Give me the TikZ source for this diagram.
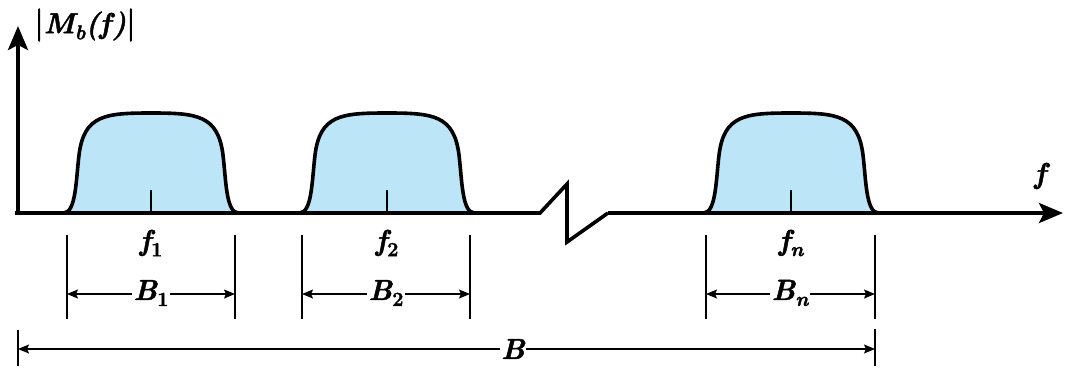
\documentclass[tikz,border=0pt]{standalone}
\usepackage{fontspec}
\newfontfamily\labfont{Latin Modern Roman}[FakeBold=1.6]
\usetikzlibrary{arrows.meta}
\definecolor{pulseblue}{HTML}{BDE5F8}
\newcommand\subsc[1]{\raisebox{-6pt}{\fontsize{20}{20}\selectfont\bfseries\upshape #1}}
\newcommand\subsci[1]{\raisebox{-6pt}{\fontsize{20}{20}\selectfont\bfseries\itshape #1}}
\tikzset{
  axisline/.style={line width=3.6pt, line join=miter},
  axisarrow/.style={-{Stealth[length=24pt,width=20pt,inset=5pt]}},
  pulseline/.style={line width=3.6pt},
  tickline/.style={line width=1.3pt},
  dimline/.style={line width=1.4pt},
  dimarrow/.style={line width=1.4pt,-{Stealth[length=11pt,width=9pt,inset=2pt]}},
  lab/.style={font=\labfont\fontsize{29}{30}\selectfont\bfseries\itshape, inner sep=1pt},
  pulse/.pic={
    \fill[pulseblue] (-87,0) .. controls (-75,-1) and (-75,-33) .. (-72,-58)
      .. controls (-67,-98) and (-46,-100) .. (0,-100)
      .. controls (46,-100) and (67,-98) .. (72,-58)
      .. controls (75,-33) and (75,-1) .. (87,0) -- cycle;
    \draw[pulseline] (-87,0) .. controls (-75,-1) and (-75,-33) .. (-72,-58)
      .. controls (-67,-98) and (-46,-100) .. (0,-100)
      .. controls (46,-100) and (67,-98) .. (72,-58)
      .. controls (75,-33) and (75,-1) .. (87,0);
    \draw[tickline] (0,0) -- (0,-23);
  }
}
\begin{document}
\begin{tikzpicture}[x=1pt,y=-1pt]
\useasboundingbox (0,0) rectangle (1067,367);
% pulses
\pic at (151,213) {pulse};
\pic at (387,213) {pulse};
\pic at (791,213) {pulse};
% axes
\coordinate (O) at (18,213);
\coordinate (ytop) at (18,26);
\coordinate (b1) at (540,213);
\coordinate (b2) at (567,184);
\coordinate (b3) at (567,242);
\coordinate (b4) at (608,213);
\coordinate (xend) at (1063,213);
\draw[axisline,axisarrow] (O) -- (ytop);
\draw[axisline,miter limit=20] (15,213) -- (b1) -- (b2) -- (b3) -- (b4);
\draw[axisline,axisarrow] (b4) -- (xend);
% axis labels
\node[lab] (ylab) at (85,25) {{\upshape\mdseries\fontsize{33}{33}\selectfont |}M\subsci{b}(f){\upshape\mdseries\fontsize{33}{33}\selectfont |}};
\node[lab] (xlab) at (1040,176) {f};
% frequency labels
\node[lab] (f1) at (151,243) {f\subsc{1}};
\node[lab] (f2) at (387,243) {f\subsc{2}};
\node[lab] (fn) at (791,243) {f\subsci{n}};
% bandwidth bars
\foreach \n/\xa/\xb in {1/67/235, 2/302/470, n/706/875}{
  \coordinate (L\n t) at (\xa,235); \coordinate (L\n b) at (\xa,319);
  \coordinate (R\n t) at (\xb,235); \coordinate (R\n b) at (\xb,319);
  \coordinate (L\n a) at (\xa,294); \coordinate (R\n a) at (\xb,294);
  \draw[dimline] (L\n t) -- (L\n b);
  \draw[dimline] (R\n t) -- (R\n b);
}
\node[lab] (B1) at (151,293) {B\subsc{1}};
\node[lab] (B2) at (386,293) {B\subsc{2}};
\node[lab] (Bn) at (790,293) {B\subsci{n}};
\draw[dimarrow] (B1.west |- L1a) -- (L1a);
\draw[dimarrow] (B1.east |- R1a) -- (R1a);
\draw[dimarrow] (B2.west |- L2a) -- (L2a);
\draw[dimarrow] (B2.east |- R2a) -- (R2a);
\draw[dimarrow] (Bn.west |- Lna) -- (Lna);
\draw[dimarrow] (Bn.east |- Rna) -- (Rna);
% total bandwidth
\coordinate (BLt) at (18,330); \coordinate (BLb) at (18,366);
\coordinate (BRt) at (875,329); \coordinate (BRb) at (875,366);
\coordinate (BLa) at (18,349); \coordinate (BRa) at (875,349);
\draw[dimline] (BLt) -- (BLb);
\draw[dimline] (BRt) -- (BRb);
\node[lab] (B) at (513,349) {B};
\draw[dimarrow] (B.west |- BLa) -- (BLa);
\draw[dimarrow] (B.east |- BRa) -- (BRa);
\end{tikzpicture}
\end{document}
